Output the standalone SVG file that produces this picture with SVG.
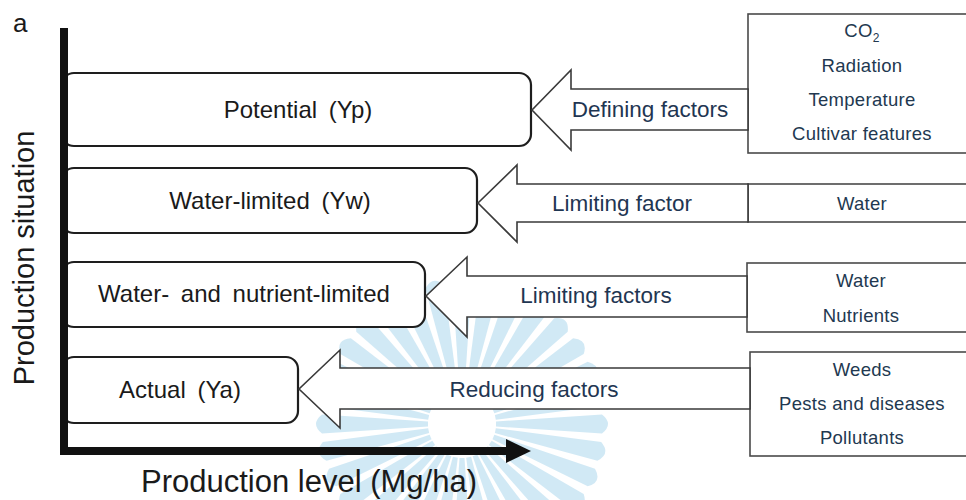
<svg xmlns="http://www.w3.org/2000/svg" xmlns:xlink="http://www.w3.org/1999/xlink" width="966" height="500" viewBox="0 0 966 500">
  <style>
    .box { fill: #ffffff; stroke: #1e1e1e; stroke-width: 2.2; }
    .arrow { fill: #ffffff; stroke: #3a3a3a; stroke-width: 1.6; stroke-linejoin: miter; }
    .fbox { fill: #ffffff; stroke: #4a4a4a; stroke-width: 1.6; }
    .lbl { font-family: "Liberation Sans", Arial, sans-serif; font-size: 24px; fill: #1a1a1a; text-anchor: middle; word-spacing: 5px; }
    .alb { font-family: "Liberation Sans", Arial, sans-serif; font-size: 22.5px; fill: #1f3652; text-anchor: middle; }
    .flb { font-family: "Liberation Sans", Arial, sans-serif; font-size: 18.5px; fill: #223850; text-anchor: middle; letter-spacing: 0.3px; }
    .axis { fill: none; stroke: #111111; stroke-width: 8; }
    .title { font-family: "Liberation Sans", Arial, sans-serif; fill: #1a1a1a; }
  </style>
  <defs>
    <path id="ray" d="M -2.5,-34 L 2.5,-34 L 9.5,-140 Q 0,-152 -9.5,-140 Z" fill="#cae6f4"/>
  </defs>

  <rect width="966" height="500" fill="#ffffff"/>

  <!-- faint starburst emblem in the background -->
  <g id="emblem" opacity="0.85">
    <use xlink:href="#ray" transform="translate(462 424) rotate(0)"/>
    <use xlink:href="#ray" transform="translate(462 424) rotate(11.25)"/>
    <use xlink:href="#ray" transform="translate(462 424) rotate(22.5)"/>
    <use xlink:href="#ray" transform="translate(462 424) rotate(33.75)"/>
    <use xlink:href="#ray" transform="translate(462 424) rotate(45)"/>
    <use xlink:href="#ray" transform="translate(462 424) rotate(56.25)"/>
    <use xlink:href="#ray" transform="translate(462 424) rotate(67.5)"/>
    <use xlink:href="#ray" transform="translate(462 424) rotate(78.75)"/>
    <use xlink:href="#ray" transform="translate(462 424) rotate(90)"/>
    <use xlink:href="#ray" transform="translate(462 424) rotate(101.25)"/>
    <use xlink:href="#ray" transform="translate(462 424) rotate(112.5)"/>
    <use xlink:href="#ray" transform="translate(462 424) rotate(123.75)"/>
    <use xlink:href="#ray" transform="translate(462 424) rotate(135)"/>
    <use xlink:href="#ray" transform="translate(462 424) rotate(146.25)"/>
    <use xlink:href="#ray" transform="translate(462 424) rotate(157.5)"/>
    <use xlink:href="#ray" transform="translate(462 424) rotate(168.75)"/>
    <use xlink:href="#ray" transform="translate(462 424) rotate(180)"/>
    <use xlink:href="#ray" transform="translate(462 424) rotate(191.25)"/>
    <use xlink:href="#ray" transform="translate(462 424) rotate(202.5)"/>
    <use xlink:href="#ray" transform="translate(462 424) rotate(213.75)"/>
    <use xlink:href="#ray" transform="translate(462 424) rotate(225)"/>
    <use xlink:href="#ray" transform="translate(462 424) rotate(236.25)"/>
    <use xlink:href="#ray" transform="translate(462 424) rotate(247.5)"/>
    <use xlink:href="#ray" transform="translate(462 424) rotate(258.75)"/>
    <use xlink:href="#ray" transform="translate(462 424) rotate(270)"/>
    <use xlink:href="#ray" transform="translate(462 424) rotate(281.25)"/>
    <use xlink:href="#ray" transform="translate(462 424) rotate(292.5)"/>
    <use xlink:href="#ray" transform="translate(462 424) rotate(303.75)"/>
    <use xlink:href="#ray" transform="translate(462 424) rotate(315)"/>
    <use xlink:href="#ray" transform="translate(462 424) rotate(326.25)"/>
    <use xlink:href="#ray" transform="translate(462 424) rotate(337.5)"/>
    <use xlink:href="#ray" transform="translate(462 424) rotate(348.75)"/>
  </g>

  <!-- factor lists on the right -->
  <g id="factors-defining">
    <rect class="fbox" x="748" y="14" width="230" height="139"/>
    <text class="flb" x="862" y="37">CO<tspan font-size="12" dy="5">2</tspan></text>
    <text class="flb" x="862" y="72">Radiation</text>
    <text class="flb" x="862" y="106">Temperature</text>
    <text class="flb" x="862" y="140">Cultivar features</text>
  </g>
  <g id="factors-water">
    <rect class="fbox" x="748" y="184" width="230" height="38"/>
    <text class="flb" x="862" y="210">Water</text>
  </g>
  <g id="factors-water-nutrients">
    <rect class="fbox" x="747" y="263" width="230" height="69"/>
    <text class="flb" x="861" y="287">Water</text>
    <text class="flb" x="861" y="322">Nutrients</text>
  </g>
  <g id="factors-reducing">
    <rect class="fbox" x="750" y="352" width="230" height="104"/>
    <text class="flb" x="862" y="376" fill="#111111">Weeds</text>
    <text class="flb" x="862" y="410">Pests and diseases</text>
    <text class="flb" x="862" y="444">Pollutants</text>
  </g>

  <!-- production situation boxes -->
  <g id="yp">
    <rect class="box" x="62" y="73" width="469" height="73" rx="12"/>
    <text class="lbl" x="298" y="118">Potential (Yp)</text>
  </g>
  <g id="yw">
    <rect class="box" x="62" y="168" width="415" height="65" rx="12"/>
    <text class="lbl" x="270" y="209">Water-limited (Yw)</text>
  </g>
  <g id="ywn">
    <rect class="box" x="62" y="262" width="363" height="65" rx="12"/>
    <text class="lbl" x="244" y="302">Water- and nutrient-limited</text>
  </g>
  <g id="ya">
    <rect class="box" x="62" y="357" width="236" height="66" rx="12"/>
    <text class="lbl" x="180" y="398">Actual (Ya)</text>
  </g>

  <!-- block arrows from factor lists to boxes -->
  <g id="connectors">
    <polygon class="arrow" points="748,89 571,89 571,70 532,110 571,150 571,130 748,130"/>
    <polygon class="arrow" points="748,184 517,184 517,165 478,203 517,242 517,222 748,222"/>
    <polygon class="arrow" points="747,276 467,276 467,257 426,296 467,337 467,317 747,317"/>
    <polygon class="arrow" points="750,368 340,368 340,350 299,389 340,428 340,409 750,409"/>
    <text class="alb" x="650" y="117">Defining factors</text>
    <text class="alb" x="622" y="211">Limiting factor</text>
    <text class="alb" x="596" y="303" fill="#3a5470">Limiting factors</text>
    <text class="alb" x="534" y="397" fill="#2f4a66">Reducing factors</text>
  </g>

  <!-- axes -->
  <g id="axes">
    <path class="axis" d="M 64,28 L 64,451 L 510,451"/>
    <polygon points="506,439 531,451 506,463" fill="#111111"/>
  </g>

  <!-- titles -->
  <text class="title" x="13" y="32" font-size="26">a</text>
  <text class="title" x="0" y="0" font-size="29" text-anchor="middle" transform="translate(34 258) rotate(-90)">Production situation</text>
  <text class="title" x="309" y="492" font-size="31" text-anchor="middle" fill="#2a2a2a">Production level (Mg/ha)</text>
</svg>
